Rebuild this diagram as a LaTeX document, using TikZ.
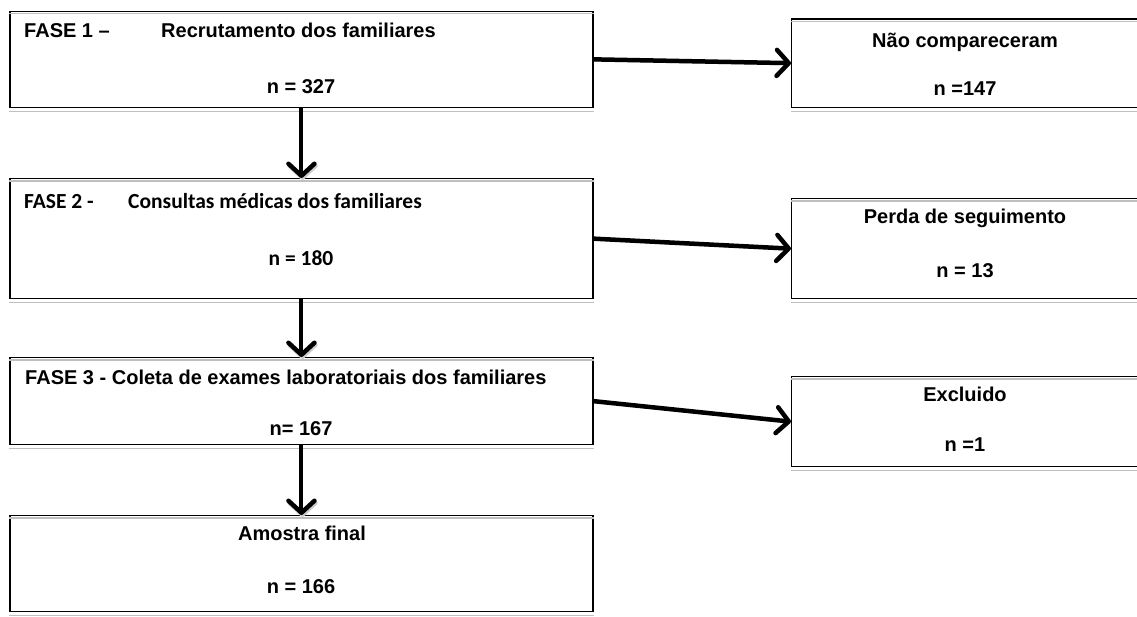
\documentclass[tikz,border=0pt]{standalone}
\usepackage{fontspec}
\setmainfont{Liberation Sans}
\newfontfamily\calib{Carlito}
\usetikzlibrary{arrows.meta}
\begin{document}
\begin{tikzpicture}[x=1pt,y=-1pt,
 box/.style={draw, line width=1.3pt, rectangle, inner sep=0pt, anchor=north west},
 txt/.style={font=\fontsize{20}{24}\selectfont\bfseries, inner sep=0pt, anchor=base},
 txtw/.style={txt, anchor=base west},
 cal/.style={font=\calib\fontsize{21.5}{25}\selectfont\bfseries},
 flow/.style={line width=4.5pt, -{Straight Barb[length=12pt,width=26pt,line width=4.5pt,round]},
   preaction={draw=gray!40, transform canvas={shift={(1pt,-2pt)}}}},
 shadeline/.style={draw=gray!50, line width=1.3pt}]
\useasboundingbox (0,0) rectangle (1137,616);
% boxes
\node[box, minimum width=583pt, minimum height=96pt] (b1) at (9.3,10.7) {};
\node[box, minimum width=583pt, minimum height=120pt] (b2) at (9.3,178) {};
\node[box, minimum width=583pt, minimum height=87pt] (b3) at (9.3,357) {};
\node[box, minimum width=583pt, minimum height=96pt] (b4) at (9.3,515) {};
\node[box, minimum width=349pt, minimum height=88.4pt] (r1) at (791,18.3) {};
\node[box, minimum width=349pt, minimum height=100pt] (r2) at (791,198) {};
\node[box, minimum width=349pt, minimum height=90pt] (r3) at (791,376) {};
% box shadows
\foreach \b in {b1,b2,b3,b4,r1,r2,r3}{
  \draw[shadeline] ([yshift=-3pt]\b.north west) -- ([yshift=-3pt]\b.north east);
  \draw[shadeline] ([yshift=-3.2pt]\b.south west) -- ([yshift=-3.2pt]\b.south east);
}
% texts
\node[txtw] (t1a) at (24,37) {FASE 1 –};
\node[txtw] (t1b) at (161,37) {Recrutamento dos familiares};
\node[txt] (t1c) at (301,93) {n = 327};
\node[txtw, cal] (t2a) at (24,208) {FASE 2 -};
\node[txtw, cal] (t2b) at (128,208) {Consultas médicas dos familiares};
\node[txt, cal] (t2c) at (301,265) {n = 180};
\node[txtw] (t3a) at (25,384) {FASE 3 - Coleta de exames laboratoriais dos familiares};
\node[txt] (t3c) at (301,435) {n= 167};
\node[txt] (t4a) at (302,540) {Amostra final};
\node[txt] (t4c) at (301,593) {n = 166};
\node[txt] (r1a) at (965,47) {Não compareceram};
\node[txt] (r1c) at (965,95) {n =147};
\node[txt] (r2a) at (965,223) {Perda de seguimento};
\node[txt] (r2c) at (965,277) {n = 13};
\node[txt] (r3a) at (965,401) {Excluido};
\node[txt] (r3c) at (965,451) {n =1};
% arrows
\draw[flow] (b1.east) -- (r1.west);
\draw[flow] (b2.east) -- (r2.west);
\draw[flow] (b3.east) -- (r3.west);
\draw[flow, line width=4pt] (b1.south) -- (b2.north);
\draw[flow, line width=4pt] (b2.south) -- (b3.north);
\draw[flow, line width=4pt] (b3.south) -- (b4.north);
\end{tikzpicture}
\end{document}
